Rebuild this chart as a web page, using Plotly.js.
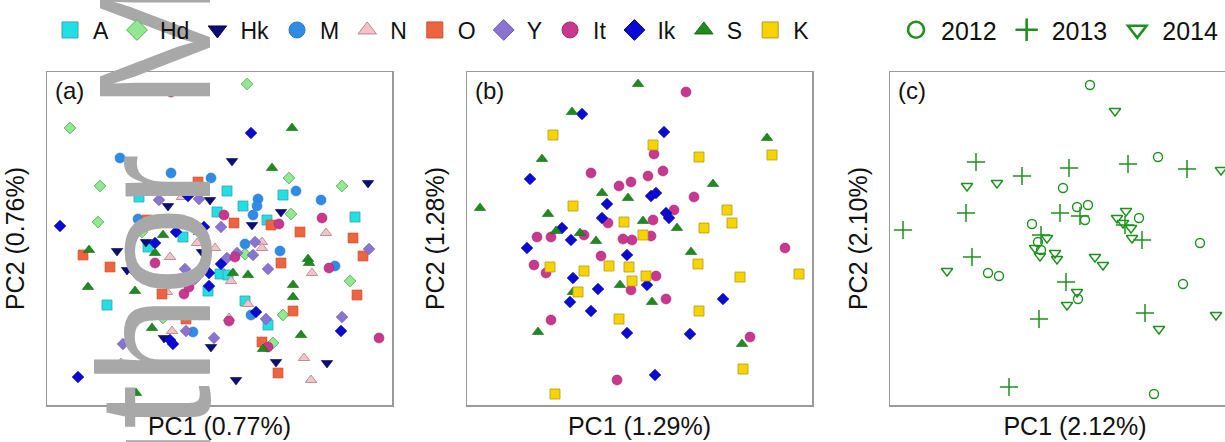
<!DOCTYPE html>
<html>
<head>
<meta charset="utf-8">
<script src="https://cdn.plot.ly/plotly-3.0.1.min.js"></script>
<style>
html,body{margin:0;padding:0;background:#fff;overflow:hidden;}
#chart{width:1265px;height:442px;}
</style>
</head>
<body>
<div id="chart"></div>
<script>
// ---- data (PC scores, arbitrary units) ----
const groups = ['A','Hd','Hk','M','N','O','Y','It','Ik','S','K'];
const years = ['2012','2013','2014'];
const titlesX = ['PC1 (0.77%)','PC1 (1.29%)','PC1 (2.12%)'];
const titlesY = ['PC2 (0.76%)','PC2 (1.28%)','PC2 (2.10%)'];
const panelLabels = ['(a)','(b)','(c)'];

// panel (a)
const a_A = [[236,210],[92,208],[180,214],[196,199],[170,193],[308,188],[220,185],[136,168],[101,158],[173,131],[181,130],[161,114],[60,100],[198,104],[221,80]];
const a_Hd = [[200,321],[23,277],[242,227],[53,219],[295,219],[244,191],[51,183],[95,173],[198,151],[138,127],[303,124],[116,87],[236,90],[226,62]];
const a_Hk = [[185,244],[321,222],[163,205],[121,199],[234,193],[205,180],[99,163],[70,154],[155,153],[80,135],[113,123],[117,67],[164,58],[229,43],[280,42],[189,25]];
const a_M = [[73,247],[124,232],[164,227],[249,214],[211,206],[274,205],[210,199],[206,190],[91,186],[198,161],[233,154],[288,139],[89,89],[126,92],[204,90],[146,73]];
const a_N = [[136,215],[135,208],[279,172],[150,162],[168,157],[215,163],[215,157],[123,148],[265,132],[184,124],[120,113],[201,101],[106,90],[121,88],[182,87],[125,74],[257,47],[74,42],[264,25]];
const a_O = [[151,223],[100,185],[187,182],[224,180],[253,173],[306,167],[36,150],[316,149],[63,138],[234,142],[310,110],[115,111],[139,86],[246,94],[215,63],[231,32]];
const a_Y = [[112,205],[152,206],[174,178],[208,163],[322,156],[190,152],[206,150],[180,147],[138,136],[148,126],[221,136],[219,86],[295,88],[139,74],[76,61],[167,67]];
const a_It = [[124,313],[177,190],[275,187],[232,181],[188,148],[108,142],[282,137],[137,111],[142,118],[107,93],[182,84],[332,67],[221,58]];
const a_Ik = [[204,272],[141,209],[13,179],[157,178],[129,173],[108,162],[174,141],[85,136],[162,132],[162,119],[209,93],[294,74],[123,65],[126,61],[31,28]];
const a_S = [[245,277],[225,237],[156,216],[116,170],[152,173],[42,155],[108,152],[261,146],[186,132],[201,130],[262,142],[41,118],[88,114],[246,120],[246,108],[105,77],[216,56],[254,70],[89,12]];

// panel (b)
const b_It = [[219,313],[187,251],[124,232],[181,229],[196,234],[152,219],[164,223],[227,208],[207,195],[141,182],[186,185],[117,170],[184,169],[70,168],[84,168],[156,166],[165,165],[318,157],[134,149],[67,140],[79,132],[189,129],[164,115],[199,106],[84,85],[283,68],[150,25]];
const b_Ik = [[115,291],[197,273],[63,226],[184,209],[189,212],[140,201],[199,192],[202,187],[135,187],[95,177],[104,165],[60,157],[160,150],[106,127],[180,120],[131,116],[256,106],[103,103],[124,94],[160,72],[223,71],[188,30]];
const b_S = [[171,321],[105,293],[300,267],[75,246],[246,221],[135,212],[161,207],[13,197],[81,191],[176,184],[210,177],[89,174],[113,172],[129,164],[224,153],[153,120],[106,113],[185,103],[71,73],[275,61]];
const b_K = [[86,270],[186,260],[232,248],[305,250],[106,199],[260,195],[157,183],[265,182],[237,177],[176,170],[83,138],[117,134],[142,139],[162,138],[231,141],[179,129],[273,128],[332,131],[165,124],[111,113],[232,94],[152,86],[276,36],[88,11]];

// panel (c)
const c_2012 = [[200,320],[268,248],[173,217],[187,198],[198,200],[195,185],[249,187],[142,181],[148,163],[151,155],[310,162],[98,132],[109,129],[188,106],[293,121],[264,11]];
const c_2013 = [[86,243],[132,229],[179,237],[238,241],[297,236],[76,192],[170,192],[190,189],[235,180],[252,165],[13,175],[151,170],[82,148],[176,123],[149,86],[255,92],[119,18]];
const c_2014 = [[225,294],[331,235],[77,219],[107,222],[236,194],[227,187],[233,182],[241,177],[242,167],[157,167],[145,157],[165,152],[205,148],[57,134],[150,149],[167,146],[213,140],[187,113],[177,100],[269,76],[326,90]];

// ---- styles ----
const W = 1265, H = 442;
const FONT = 'Liberation Sans, Arial, sans-serif';
const styles = {
  A:  {symbol:'square', size:10, color:'#22dfe6', line:{color:'#3aa2aa', width:0.8}},
  Hd: {symbol:'diamond', size:9, color:'#92e892', line:{color:'#55b055', width:0.9}},
  Hk: {symbol:'triangle-down', size:10, color:'#0c0c78', line:{color:'#06064f', width:0.6}},
  M:  {symbol:'circle', size:10, color:'#2f8be6', line:{color:'#2a78c8', width:0.6}},
  N:  {symbol:'triangle-up', size:10, color:'#f6c2c8', line:{color:'#ad8c94', width:0.9}},
  O:  {symbol:'square', size:10, color:'#ef6440', line:{color:'#c65030', width:0.6}},
  Y:  {symbol:'diamond', size:9, color:'#8a74d2', line:{color:'#6a58b0', width:0.6}},
  It: {symbol:'circle', size:10, color:'#c8388e', line:{color:'#a02a72', width:0.6}},
  Ik: {symbol:'diamond', size:9, color:'#0a0ad2', line:{color:'#0000a0', width:0.6}},
  S:  {symbol:'triangle-up', size:10, color:'#1f8a1f', line:{color:'#166a16', width:0.6}},
  K:  {symbol:'square', size:10, color:'#f7d400', line:{color:'#b39a22', width:0.8}}
};
const GREEN = '#1f901f';
const yearStyles = {
  '2012': {symbol:'circle-open', size:9, color:GREEN, line:{color:GREEN, width:1.4}},
  '2013': {symbol:'cross-thin-open', size:13, color:GREEN, line:{color:GREEN, width:1.5}},
  '2014': {symbol:'triangle-down-open', size:10, color:GREEN, line:{color:GREEN, width:1.4}}
};

function pts(name, arr, xa, ya, st) {
  return {type:'scatter', mode:'markers', name:name, showlegend:false,
    x: arr.map(p => p[0]), y: arr.map(p => p[1]), xaxis:xa, yaxis:ya,
    marker: st, hoverinfo:'skip'};
}
const traces = [];
const aData = {A:a_A, Hd:a_Hd, Hk:a_Hk, M:a_M, N:a_N, O:a_O, Y:a_Y, It:a_It, Ik:a_Ik, S:a_S};
['A','Hd','Hk','M','N','O','Y','It','Ik','S'].forEach(g => traces.push(pts(g, aData[g], 'x', 'y', styles[g])));
const bData = {It:b_It, Ik:b_Ik, S:b_S, K:b_K};
['It','Ik','S','K'].forEach(g => traces.push(pts(g, bData[g], 'x2', 'y2', styles[g])));
const cData = {'2012':c_2012, '2013':c_2013, '2014':c_2014};
years.forEach(yv => traces.push(pts(yv, cData[yv], 'x3', 'y3', yearStyles[yv])));

// legend entries (bigger symbols like the original)
groups.forEach(g => {
  const s = styles[g];
  traces.push({type:'scatter', mode:'markers', name:g, x:[null], y:[null], xaxis:'x', yaxis:'y',
    legend:'legend', showlegend:true,
    marker:{symbol:s.symbol, size:16, color:s.color, line:{color:s.line.color, width:1}}});
});
years.forEach(yv => {
  const s = yearStyles[yv];
  traces.push({type:'scatter', mode:'markers', name:yv, x:[null], y:[null], xaxis:'x3', yaxis:'y3',
    legend:'legend2', showlegend:true,
    marker:{symbol:s.symbol, size:16, color:GREEN, line:{color:GREEN, width:2.6}}});
});

function dx(l, r) { return [l / W, r / W]; }
function dy(t, b) { return [1 - b / H, 1 - t / H]; }
function axis(dom, rng, title, anchor, isX) {
  return {domain: dom, range: rng, anchor: anchor, showgrid:false, zeroline:false,
    showticklabels:false, ticks:'', showline:true, mirror:true, linecolor:'#9a9a9a', linewidth:1.5,
    fixedrange:true,
    title:{text:title, font:{family:FONT, size:25, color:'#111'}, standoff: isX ? 12 : 14}};
}
const yd = dy(72, 405);
const layout = {
  width: W, height: H, margin:{l:0, r:0, t:0, b:0},
  paper_bgcolor:'#fff', plot_bgcolor:'#fff',
  font:{family:FONT, color:'#111'},
  xaxis:  axis(dx(47, 392), [0, 345], titlesX[0], 'y', true),
  yaxis:  axis(yd, [0, 333], titlesY[0], 'x', false),
  xaxis2: axis(dx(467, 812), [0, 345], titlesX[1], 'y2', true),
  yaxis2: axis(yd, [0, 333], titlesY[1], 'x2', false),
  xaxis3: axis(dx(890, 1260), [0, 370], titlesX[2], 'y3', true),
  yaxis3: axis(yd, [0, 333], titlesY[2], 'x3', false),
  legend: {orientation:'h', x: 47 / W, xanchor:'left', y: 1 - 30 / H, yanchor:'middle',
    font:{family:FONT, size:23, color:'#111'}, itemwidth:36, bgcolor:'rgba(0,0,0,0)', traceorder:'normal'},
  legend2: {orientation:'h', x: 891 / W, xanchor:'left', y: 1 - 30 / H, yanchor:'middle',
    font:{family:FONT, size:25, color:'#111'}, itemwidth:40, bgcolor:'rgba(0,0,0,0)', traceorder:'normal'},
  annotations: [
    ...panelLabels.map((t, i) => ({text:t, xref:(i ? 'x' + (i + 1) : 'x') + ' domain', yref:(i ? 'y' + (i + 1) : 'y') + ' domain',
      x: 0.016, y: 0.99, xanchor:'left', yanchor:'top', showarrow:false,
      font:{family:FONT, size:24, color:'#111'}})),
    {text:'Author Manuscript', xref:'paper', yref:'paper', x:154 / W, y:(H - 627) / H,
      xanchor:'center', yanchor:'bottom', textangle:-90, showarrow:false,
      font:{family:FONT, size:160, color:'#a8a8a8'}}
  ]
};
Plotly.newPlot('chart', traces, layout, {displayModeBar:false, staticPlot:true}).then(gd => {
  // watermark sits above the marks but below legends, titles and labels
  const anns = Array.from(gd.querySelectorAll('g.annotation'));
  const wm = anns.find(a => a.textContent.indexOf('Author') >= 0);
  if (wm && wm.parentNode) wm.parentNode.insertBefore(wm, wm.parentNode.firstChild);
});
</script>
</body>
</html>
